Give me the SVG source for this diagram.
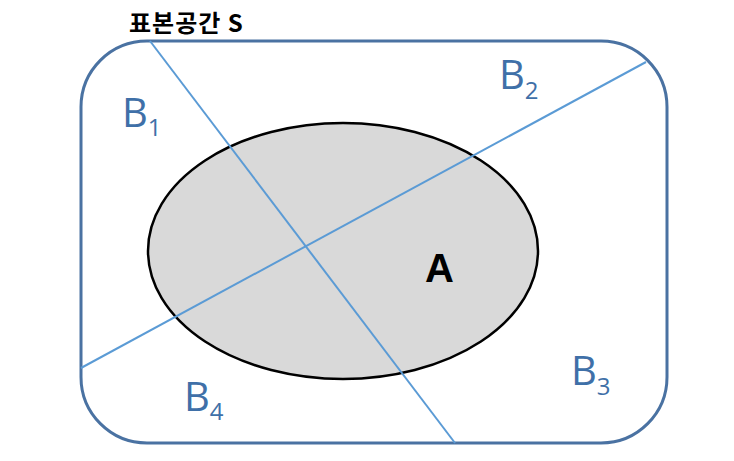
<svg xmlns="http://www.w3.org/2000/svg" width="734" height="461" viewBox="0 0 734 461">
<style>
.lbl{font-family:"Open Sans","Noto Sans",sans-serif;fill:#3f70a8;font-size:40px}
.sub{font-size:24px}
.cut{stroke:#5b9bd5;stroke-width:2;fill:none}
</style>
<rect width="734" height="461" fill="#ffffff"/>
<g id="sample-space">
<rect x="81" y="41" width="586" height="402" rx="66" ry="66" fill="none" stroke="#4a72a2" stroke-width="3"/>
<text x="129" y="32" font-family="'Noto Sans CJK KR',sans-serif" font-weight="bold" font-size="24" letter-spacing="1" fill="#000">표본공간 S</text>
</g>
<g id="event-A">
<ellipse cx="343" cy="251" rx="195" ry="128" fill="#d9d9d9" stroke="#000" stroke-width="2.5"/>
<text x="425" y="282" font-family="'Liberation Sans',Arial,sans-serif" font-weight="bold" font-size="40" fill="#000">A</text>
</g>
<g id="connectors">
<line class="cut" x1="150" y1="41" x2="455" y2="443"/>
<line class="cut" x1="81" y1="368" x2="646" y2="62"/>
</g>
<g id="B1"><text class="lbl" x="122" y="127">B<tspan class="sub" dy="9">1</tspan></text></g>
<g id="B2"><text class="lbl" x="499" y="89">B<tspan class="sub" dy="10">2</tspan></text></g>
<g id="B3"><text class="lbl" x="571" y="385">B<tspan class="sub" dy="10">3</tspan></text></g>
<g id="B4"><text class="lbl" x="184" y="411">B<tspan class="sub" dy="9">4</tspan></text></g>
</svg>
